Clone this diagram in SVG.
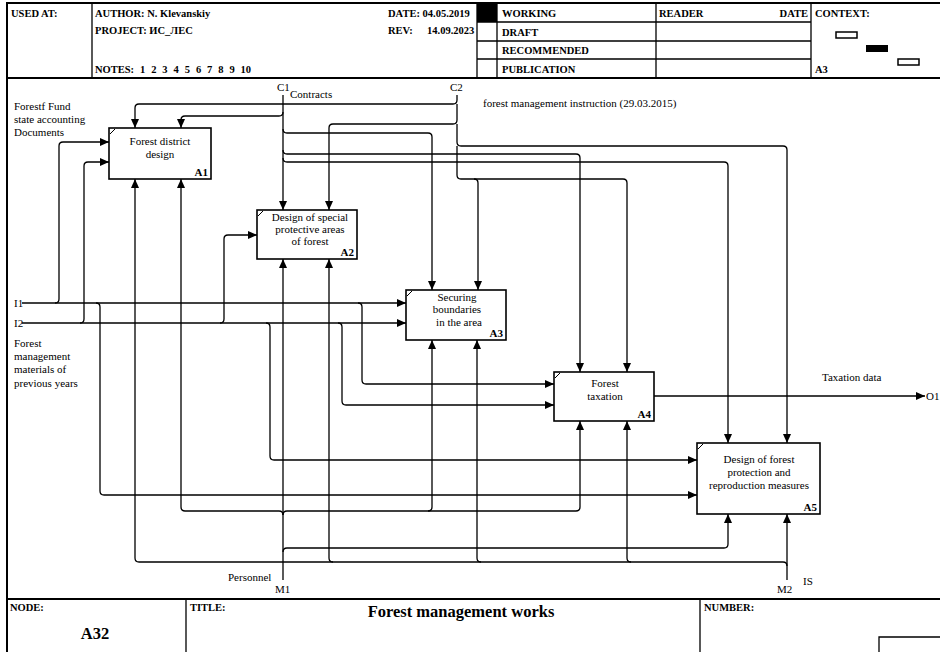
<svg xmlns="http://www.w3.org/2000/svg" width="940" height="652" viewBox="0 0 940 652">
<style>
text{font-family:"Liberation Serif","Times New Roman",serif;fill:#000}
.hdr{font-size:10.5px;font-weight:bold}
.lbl{font-size:11px}
.bt{font-size:11px;text-anchor:middle}
.num{font-size:11px;font-weight:bold;text-anchor:end}
.fl{stroke:#000;fill:none;stroke-width:2}
.tl{stroke:#000;fill:none;stroke-width:1.3}
.box rect{fill:#fff;stroke:#000;stroke-width:1.6}
.box line{stroke:#000;stroke-width:1}
#connectors path{fill:none;stroke:#000;stroke-width:1.3}
.arr{marker-end:url(#ah)}
</style>
<defs>
<marker id="ah" markerUnits="userSpaceOnUse" markerWidth="9" markerHeight="8" refX="9" refY="4" orient="auto">
<path d="M0,0 L9,4 L0,8 z" fill="#000"/>
</marker>
</defs>
<rect width="940" height="652" fill="#fff"/>

<g id="frame">
<path class="fl" d="M7 652 V3 H940 M7 78 H940 M7 599 H940"/>
<path class="tl" d="M92 3 V78 M477 3 V78 M497 3 V78 M656 3 V78 M811 3 V78 M477 22 H811 M477 41 H811 M477 59 H811 M186 599 V652 M700 599 V652 M879 652 V637 H940"/>
<text class="hdr" x="11" y="17">USED AT:</text>
<text class="hdr" x="95" y="17">AUTHOR: N. Klevanskiy</text>
<text class="hdr" x="95" y="34">PROJECT: ИС_ЛЕС</text>
<text class="hdr" x="95" y="73" word-spacing="3.3">NOTES: 1 2 3 4 5 6 7 8 9 10</text>
<text class="hdr" x="388" y="17">DATE: 04.05.2019</text>
<text class="hdr" x="388" y="34">REV:</text>
<text class="hdr" x="427" y="34">14.09.2023</text>
<rect x="477" y="3" width="20" height="19" fill="#000"/>
<text class="hdr" x="502" y="17">WORKING</text>
<text class="hdr" x="502" y="36">DRAFT</text>
<text class="hdr" x="502" y="54">RECOMMENDED</text>
<text class="hdr" x="502" y="73">PUBLICATION</text>
<text class="hdr" x="659" y="17">READER</text>
<text class="hdr" x="808" y="17" text-anchor="end">DATE</text>
<text class="hdr" x="815" y="17">CONTEXT:</text>
<text class="hdr" x="815" y="73">A3</text>
<rect x="836" y="32" width="21" height="6" fill="#fff" stroke="#000" stroke-width="1.5"/>
<rect x="866" y="45" width="22" height="7" fill="#000"/>
<rect x="898" y="59" width="21" height="6" fill="#fff" stroke="#000" stroke-width="1.5"/>
<text class="hdr" x="10" y="611">NODE:</text>
<text x="95" y="639" font-size="16.5" font-weight="bold" text-anchor="middle">A32</text>
<text class="hdr" x="190" y="611">TITLE:</text>
<text x="461" y="617" font-size="16.5" font-weight="bold" text-anchor="middle">Forest management works</text>
<text class="hdr" x="704" y="611">NUMBER:</text>
</g>

<g id="connectors">
<!-- C2 -->
<path class="arr" d="M457 95 V100 Q457 104 453 104 H139 Q135 104 135 108 V128"/>
<path class="arr" d="M457 104 V120 Q457 124 453 124 H333 Q329 124 329 128 V210"/>
<path class="arr" d="M457 124 V142 Q457 146 461 146 H783 Q787 146 787 150 V443"/>
<path class="arr" d="M457 146 V175 Q457 179 461 179 H474 Q478 179 478 183 V290"/>
<path class="arr" d="M474 179 H623 Q627 179 627 183 V372"/>
<!-- C1 -->
<path class="arr" d="M283 95 V210"/>
<path class="arr" d="M283 112 Q283 116 279 116 H185 Q181 116 181 120 V128"/>
<path class="arr" d="M283 129 Q283 133 287 133 H428 Q432 133 432 137 V290"/>
<path class="arr" d="M283 150 Q283 154 287 154 H576 Q580 154 580 158 V372"/>
<path class="arr" d="M283 158 Q283 162 287 162 H724 Q728 162 728 166 V443"/>
<!-- I1 -->
<path class="arr" d="M22 303 H406"/>
<path class="arr" d="M55 303 Q59 303 59 299 V146 Q59 142 63 142 H109"/>
<path class="arr" d="M96 303 Q100 303 100 307 V491 Q100 495 104 495 H697"/>
<path class="arr" d="M358 303 Q362 303 362 307 V380 Q362 384 366 384 H554"/>
<!-- I2 -->
<path class="arr" d="M22 323 H406"/>
<path class="arr" d="M80 323 Q84 323 84 319 V166 Q84 162 88 162 H109"/>
<path class="arr" d="M220 323 Q224 323 224 319 V239 Q224 235 228 235 H257"/>
<path class="arr" d="M266 323 Q270 323 270 327 V456 Q270 460 274 460 H697"/>
<path class="arr" d="M338 323 Q342 323 342 327 V401 Q342 405 346 405 H554"/>
<!-- M1 -->
<path class="arr" d="M283 580 V259"/>
<path class="arr" d="M283 515 Q283 511 279 511 H185 Q181 511 181 507 V179"/>
<path class="arr" d="M283 515 Q283 511 287 511 H428 Q432 511 432 507 V340"/>
<path class="arr" d="M428 511 H576 Q580 511 580 507 V421"/>
<path class="arr" d="M283 552 Q283 548 287 548 H724 Q728 548 728 544 V514"/>
<!-- M2 -->
<path class="arr" d="M787 580 V514"/>
<path class="arr" d="M787 566 Q787 562 783 562 H631 Q627 562 627 558 V421"/>
<path class="arr" d="M631 562 H481 Q477 562 477 558 V340"/>
<path class="arr" d="M481 562 H333 Q329 562 329 558 V259"/>
<path class="arr" d="M333 562 H139 Q135 562 135 558 V179"/>
<!-- O1 -->
<path class="arr" d="M654 396 H925"/>
</g>

<g id="labels">
<text class="lbl" x="277" y="91">C1</text>
<text class="lbl" x="290" y="98">Contracts</text>
<text class="lbl" x="450" y="91">C2</text>
<text class="lbl" x="483" y="107">forest management instruction (29.03.2015)</text>
<text class="lbl" x="14" y="110">Forestf Fund</text>
<text class="lbl" x="14" y="123">state accounting</text>
<text class="lbl" x="14" y="136">Documents</text>
<text class="lbl" x="14" y="307">I1</text>
<text class="lbl" x="14" y="327">I2</text>
<text class="lbl" x="14" y="347">Forest</text>
<text class="lbl" x="14" y="360">management</text>
<text class="lbl" x="14" y="373">materials of</text>
<text class="lbl" x="14" y="387">previous years</text>
<text class="lbl" x="228" y="581">Personnel</text>
<text class="lbl" x="275" y="593">M1</text>
<text class="lbl" x="777" y="593">M2</text>
<text class="lbl" x="803" y="585">IS</text>
<text class="lbl" x="822" y="381">Taxation data</text>
<text class="lbl" x="926" y="400">O1</text>
</g>

<g id="A1" class="box">
<rect x="109" y="128" width="102" height="51"/>
<line x1="110" y1="134" x2="115" y2="129"/>
<text class="bt" x="160" y="145">Forest district</text>
<text class="bt" x="160" y="158">design</text>
<text class="num" x="208" y="176">A1</text>
</g>
<g id="A2" class="box">
<rect x="257" y="210" width="100" height="49"/>
<line x1="258" y1="216" x2="263" y2="211"/>
<text class="bt" x="310" y="221">Design of  special</text>
<text class="bt" x="310" y="233">protective areas</text>
<text class="bt" x="310" y="245">of forest</text>
<text class="num" x="354" y="256">A2</text>
</g>
<g id="A3" class="box">
<rect x="406" y="290" width="100" height="50"/>
<line x1="407" y1="296" x2="412" y2="291"/>
<text class="bt" x="457" y="301">Securing</text>
<text class="bt" x="457" y="313">boundaries</text>
<text class="bt" x="459" y="326">in the area</text>
<text class="num" x="503" y="337">A3</text>
</g>
<g id="A4" class="box">
<rect x="554" y="372" width="100" height="49"/>
<line x1="555" y1="378" x2="560" y2="373"/>
<text class="bt" x="605" y="387">Forest</text>
<text class="bt" x="605" y="400">taxation</text>
<text class="num" x="651" y="418">A4</text>
</g>
<g id="A5" class="box">
<rect x="697" y="443" width="123" height="71"/>
<line x1="698" y1="449" x2="703" y2="444"/>
<text class="bt" x="759" y="463">Design of forest</text>
<text class="bt" x="759" y="476">protection and</text>
<text class="bt" x="759" y="489">reproduction measures</text>
<text class="num" x="817" y="511">A5</text>
</g>
</svg>
